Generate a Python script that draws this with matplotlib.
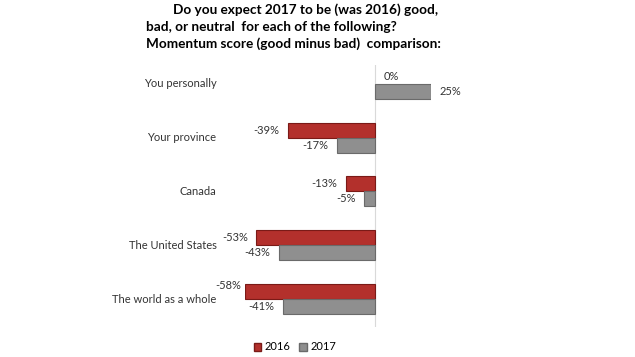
import numpy as np
import matplotlib.pyplot as plt
from matplotlib.patches import Patch

# Data
categories = ['You personally', 'Your province', 'Canada', 'The United States', 'The world as a whole']
score_2016 = [0, -39, -13, -53, -58]
score_2017 = [25, -17, -5, -43, -41]

red = '#B3302C'
gray = '#8F8F8F'

plt.rcParams['font.family'] = ['Lato', 'DejaVu Sans']

fig = plt.figure(figsize=(6.35, 3.57), dpi=100)
ax = fig.add_axes([245 / 635, 1 - 327 / 357, 186 / 635, (327 - 65) / 357])

y = np.arange(len(categories))
h = 0.28
b1 = ax.barh(y - h / 2, score_2016, height=h, color=red, edgecolor='#7A1A17', linewidth=0.8)
b2 = ax.barh(y + h / 2, score_2017, height=h, color=gray, edgecolor='#6A6A6A', linewidth=0.8)

# no outline on empty bars
for bars, vals in [(b1, score_2016), (b2, score_2017)]:
    for bar, v in zip(bars, vals):
        if v == 0:
            bar.set_linewidth(0)

ax.set_xlim(-58, 25)
ax.set_ylim(4.52, -0.35)
ax.axvline(0, color='#D9D9D9', linewidth=0.8, zorder=0)

# value labels
for bars, vals in [(b1, score_2016), (b2, score_2017)]:
    for bar, v in zip(bars, vals):
        yc = bar.get_y() + bar.get_height() / 2
        if v < 0:
            # the longest bar's label sits a bit higher and closer, as in the original
            dx, dy = (-3, 4) if v <= -55 else (-6, 0)
            ax.annotate(f'{v}%', (v, yc), xytext=(dx, dy), textcoords='offset points',
                        ha='right', va='center', fontsize=8, color='#333333')
        else:
            ax.annotate(f'{v}%', (v, yc), xytext=(6, 0), textcoords='offset points',
                        ha='left', va='center', fontsize=8, color='#333333')

# category labels
for yi, cat in zip(y, categories):
    ax.text(-70.7, yi, cat, ha='right', va='center', fontsize=8, color='#333333')

ax.axis('off')

# title
fig.text(173 / 635, 1 - 10 / 357, 'Do you expect 2017 to be (was 2016) good,',
         fontsize=9.8, fontweight='bold', va='center', ha='left')
fig.text(146 / 635, 1 - 27 / 357, 'bad, or neutral  for each of the following?',
         fontsize=9.8, fontweight='bold', va='center', ha='left')
fig.text(146 / 635, 1 - 44 / 357, 'Momentum score (good minus bad)  comparison:',
         fontsize=9.8, fontweight='bold', va='center', ha='left')

handles = [Patch(facecolor=red, edgecolor='#7A1A17', label='2016'),
           Patch(facecolor=gray, edgecolor='#6A6A6A', label='2017')]
fig.legend(handles=handles, loc='center', bbox_to_anchor=(295 / 635, 1 - 347 / 357),
           ncol=2, frameon=False, fontsize=8, handlelength=0.7, handleheight=0.7,
           handletextpad=0.3, columnspacing=0.8)

fig.savefig('out.png', dpi=100)
